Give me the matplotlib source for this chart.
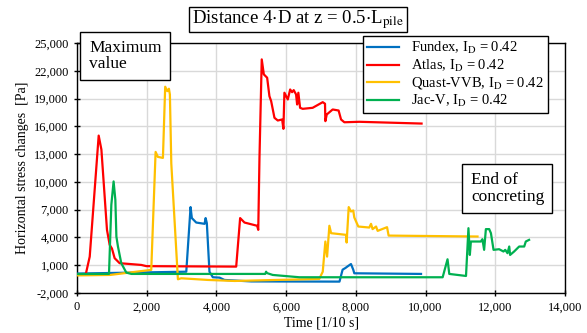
import matplotlib
matplotlib.use("Agg")
import matplotlib.pyplot as plt
from matplotlib.patches import Rectangle
from matplotlib.ticker import FuncFormatter, MultipleLocator, FixedLocator

plt.rcParams['font.family'] = ['Liberation Serif', 'DejaVu Serif']
plt.rcParams['mathtext.fontset'] = 'stix'

# --- DATA (time in 1/10 s, stress change in Pa) ---
fundex_t = [0, 3135, 3258, 3295, 3420, 3660, 3690, 3725, 3800, 3897, 4090, 4230,
            5000, 7530, 7620, 7700, 7765, 7860, 7925, 7955, 9870]
fundex_v = [100, 300, 7280, 6090, 5610, 5470, 6090, 5540, 300, -300, -340, -590,
            -750, -770, 520, 700, 880, 1130, 520, 130, 60]

atlas_t = [250, 365, 622, 700, 860, 937, 1003, 1080, 1223, 1845, 1990, 4567, 4680,
           4805, 5168, 5200, 5235, 5300, 5360, 5455, 5520, 5570, 5665, 5760, 5885,
           5922, 5950, 6047, 6115, 6170, 6217, 6285, 6315, 6350, 6400, 6475, 6760,
           7050, 7115, 7125, 7165, 7335, 7505, 7575, 7670, 8100, 9885]
atlas_v = [0, 1930, 15000, 13490, 4820, 3200, 2800, 1760, 1220, 1030, 900, 850, 6090,
           5610, 5260, 4820, 12620, 23230, 21610, 21250, 19260, 18720, 16920, 16630,
           16740, 15730, 19630, 18900, 19980, 19690, 19910, 19440, 18360, 19630, 18000,
           17890, 18000, 18610, 18440, 16560, 17280, 17820, 17710, 16740, 16440, 16490,
           16300]

quast_t = [0, 950, 2130, 2255, 2320, 2465, 2530, 2590, 2637, 2665, 2705, 2895, 2990,
           3755, 4520, 6950, 7050, 7125, 7175, 7240, 7290, 7720, 7735, 7795, 7860,
           7925, 7955, 8070, 8385, 8435, 8480, 8580, 8625, 8895, 8940, 11490]
quast_v = [-100, -50, 500, 13240, 12700, 12590, 20280, 19800, 20060, 19440, 12000,
           -520, -410, -590, -700, -480, 300, 3560, 1930, 5260, 4460, 4280, 3450, 7280,
           6800, 6910, 6160, 5180, 5070, 5470, 4900, 5180, 4710, 5110, 4200, 4100]

jacv_t = [0, 918, 985, 1050, 1100, 1130, 1175, 1270, 1415, 1560, 5400, 5425, 5450,
          5615, 6380, 10490, 10630, 10680, 11160, 11230, 11270, 11300, 11585, 11630,
          11680, 11730, 11825, 11875, 11950, 12110, 12235, 12285, 12350, 12400, 12425,
          12540, 12685, 12830, 12875, 12970]
jacv_v = [50, 60, 7530, 10050, 8070, 4100, 3020, 1220, 200, 60, 60, 300, 150, -50,
          -300, -300, 1640, 60, -160, 5000, 2110, 3560, 3560, 3810, 2660, 4900, 4900,
          4460, 2660, 2730, 2480, 2660, 2300, 3020, 2110, 2480, 3020, 3020, 3560, 3740]

y_ticks = [-2000, 1000, 4000, 7000, 10000, 13000, 16000, 19000, 22000, 25000]

series = [
    (fundex_t, fundex_v, '#0070C0', r'Fundex, I$_\mathrm{D}$ = 0.42'),
    (atlas_t, atlas_v, '#FF0000', r'Atlas, I$_\mathrm{D}$ = 0.42'),
    (quast_t, quast_v, '#FFC000', r'Quast-VVB, I$_\mathrm{D}$ = 0.42'),
    (jacv_t, jacv_v, '#00B050', r'Jac-V, I$_\mathrm{D}$ = 0.42'),
]

W, H = 587, 333
fig = plt.figure(figsize=(W / 100, H / 100), dpi=100)
ax = fig.add_axes([77 / W, 1 - 293 / H, (565 - 77) / W, (293 - 43) / H])

# draw order: green under others as in the original
for idx in [3, 2, 0, 1]:
    t, v, c, lab = series[idx]
    ax.plot(t, v, color=c, lw=1.6, label=lab, zorder=3 + idx)

ax.set_xlim(0, 14000)
ax.set_ylim(-2000, 25000)
ax.xaxis.set_major_locator(MultipleLocator(2000))
ax.yaxis.set_major_locator(FixedLocator(y_ticks))
fmt = FuncFormatter(lambda x, p: f'{int(x):,}')
ax.xaxis.set_major_formatter(fmt)
ax.yaxis.set_major_formatter(fmt)
ax.grid(True, color='#D9D9D9', lw=1)
ax.set_axisbelow(True)
ax.tick_params(direction='inout', length=5, width=1, labelsize=9, color='black')
for s in ax.spines.values():
    s.set_color('black')
    s.set_linewidth(1)

ax.set_xlabel('Time [1/10 s]', fontsize=10, labelpad=2)
ax.set_ylabel('Horizontal stress changes  [Pa]', fontsize=10, labelpad=4)

handles, labels = ax.get_legend_handles_labels()
order = [labels.index(s[3]) for s in series]
leg = ax.legend([handles[i] for i in order], [labels[i] for i in order],
                loc='upper left', bbox_to_anchor=(363 / W, 1 - 36 / H),
                bbox_transform=fig.transFigure, fontsize=10.5, fancybox=False,
                framealpha=1, edgecolor='black', borderpad=0.3, labelspacing=0.1,
                handlelength=2.2, handletextpad=0.8, borderaxespad=0)
leg.get_frame().set_linewidth(1)
leg.set_zorder(20)


def box(x0, y0, x1, y1, text, size, ha='center', tx=None):
    r = Rectangle((x0 / W, 1 - y1 / H), (x1 - x0) / W, (y1 - y0) / H,
                  transform=fig.transFigure, facecolor='white', edgecolor='black',
                  lw=1, zorder=30)
    fig.add_artist(r)
    xt = (x0 + x1) / 2 if tx is None else tx
    fig.text(xt / W, 1 - (y0 + y1) / 2 / H, text, ha=ha, va='center',
             fontsize=size, zorder=31, linespacing=1.05)


box(189, 7, 407, 32, r'Distance 4$\cdot$D at z = 0.5$\cdot$L$_\mathrm{pile}$', 13.5)
box(80, 32, 170, 80, 'Maximum\nvalue', 12.5, ha='left', tx=89)
box(462, 164, 552, 213, 'End of\nconcreting', 12.5, ha='left', tx=471)

fig.savefig('out.png', dpi=100)
